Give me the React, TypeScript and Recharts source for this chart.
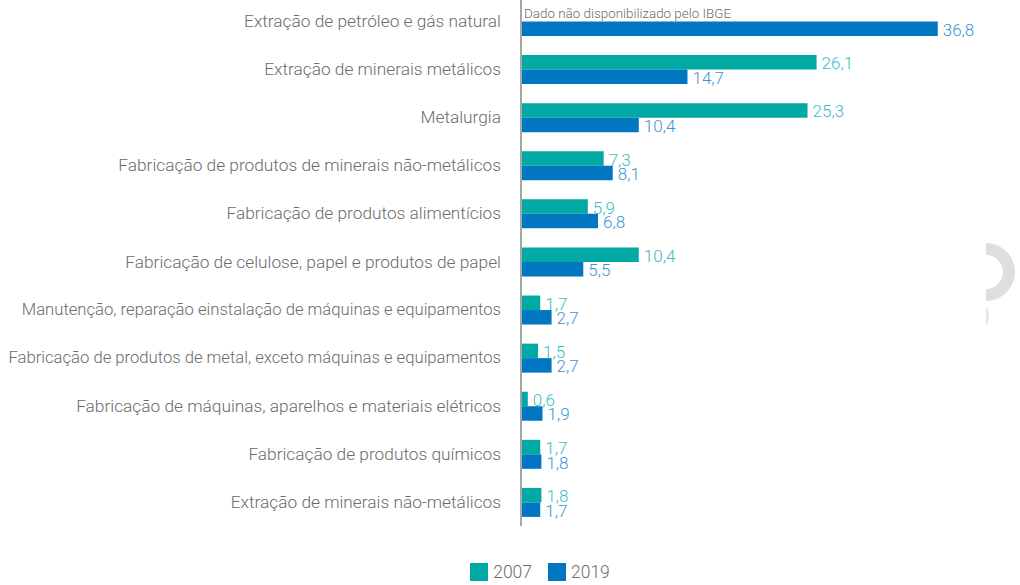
import React from "react";
import { BarChart, Bar, XAxis, YAxis, LabelList, Legend } from "recharts";

const categories = [
  "Extração de petróleo e gás natural",
  "Extração de minerais metálicos",
  "Metalurgia",
  "Fabricação de produtos de minerais não-metálicos",
  "Fabricação de produtos alimentícios",
  "Fabricação de celulose, papel e produtos de papel",
  "Manutenção, reparação einstalação de máquinas e equipamentos",
  "Fabricação de produtos de metal, exceto máquinas e equipamentos",
  "Fabricação de máquinas, aparelhos e materiais elétricos",
  "Fabricação de produtos químicos",
  "Extração de minerais não-metálicos",
];

const values2007: (number | null)[] = [null, 26.1, 25.3, 7.3, 5.9, 10.4, 1.7, 1.5, 0.6, 1.7, 1.8];
const values2019 = [36.8, 14.7, 10.4, 8.1, 6.8, 5.5, 2.7, 2.7, 1.9, 1.8, 1.7];

const missingNote = "Dado não disponibilizado pelo IBGE";

const TEAL = "#00a9a4";
const BLUE = "#0077c0";
const TEAL_TXT = "#3dbcc0";
const BLUE_TXT = "#3b95d6";
const GREY = "#6b6b6b";
const FONT = "Roboto, 'Noto Sans', sans-serif";

const data = categories.map((name, i) => ({
  name,
  y2007: values2007[i],
  y2019: values2019[i],
}));

const fmt = (v: unknown) =>
  typeof v === "number" ? v.toFixed(1).replace(".", ",") : "";

// category tick; the very long names are set a bit smaller so they fit
const CategoryTick = (props: any) => {
  const { x, y, payload } = props;
  const label = String(payload.value);
  return (
    <text
      x={x}
      y={y}
      textAnchor="end"
      dominantBaseline="central"
      fontSize={label.length > 56 ? 16.65 : 17.3}
      fontWeight={300}
      fill={GREY}
      fontFamily={FONT}
    >
      {label}
    </text>
  );
};

// value label; the 2019 one also writes the note when 2007 has no data
function ValueLabel(color: string, withNote: boolean) {
  return (props: any) => {
    const { x, y, width, height, value, index } = props;
    if (value == null) return null;
    const missing = withNote && values2007[index] == null;
    return (
      <g>
        {missing && (
          <text
            x={Number(x) + 3}
            y={Number(y) - 8}
            dominantBaseline="central"
            fontSize={13.4}
            fontWeight={300}
            fill={GREY}
            fontFamily={FONT}
          >
            {missingNote}
          </text>
        )}
        <text
          x={Number(x) + Number(width) + 5}
          y={Number(y) + Number(height) / 2 + 1}
          dominantBaseline="central"
          fontSize={17}
          fontWeight={300}
          fill={color}
          fontFamily={FONT}
        >
          {fmt(value)}
        </text>
      </g>
    );
  };
}

const LegendBox = () => (
  <div
    style={{
      display: "flex",
      justifyContent: "center",
      alignItems: "center",
      gap: 16,
      fontFamily: FONT,
      fontWeight: 300,
      fontSize: 17.5,
      color: GREY,
      marginLeft: 106,
    }}
  >
    {[
      { label: "2007", color: TEAL },
      { label: "2019", color: BLUE },
    ].map((s) => (
      <div key={s.label} style={{ display: "flex", alignItems: "center", gap: 5 }}>
        <span style={{ width: 18, height: 18, background: s.color, display: "inline-block" }} />
        <span>{s.label}</span>
      </div>
    ))}
  </div>
);

// faint logo cut off at the right edge of the picture
const Watermark = () => (
  <svg
    width={40}
    height={100}
    style={{ position: "absolute", left: 980, top: 238 }}
  >
    <path
      d="M6 5 A29 29 0 0 1 6 63 L6 51 A17 17 0 0 0 6 17 Z"
      fill="#dedede"
    />
    <path d="M6 68 Q12 78 6 89 Z" fill="#e6e6e6" />
  </svg>
);

export default function App() {
  return (
    <div style={{ position: "absolute", left: 0, top: 0, width: 1020, height: 585, overflow: "hidden", background: "#fff" }}>
      <div style={{ position: "absolute", left: 0, top: -3 }}>
        <BarChart
          width={1020}
          height={588}
          data={data}
          layout="vertical"
          margin={{ top: 0, right: 46, bottom: 39, left: 0 }}
          barGap={0}
          barSize={14.5}
        >
          <XAxis type="number" domain={[0, 40]} hide />
          <YAxis
            type="category"
            dataKey="name"
            width={521}
            tickLine={false}
            tickSize={6}
            tickMargin={14}
            axisLine={{ stroke: "#a6a6a6", strokeWidth: 2 }}
            tick={<CategoryTick />}
            interval={0}
          />
          <Legend verticalAlign="bottom" content={<LegendBox />} wrapperStyle={{ bottom: 3 }} />
          <Bar dataKey="y2007" name="2007" fill={TEAL} isAnimationActive={false}>
            <LabelList dataKey="y2007" content={ValueLabel(TEAL_TXT, false)} />
          </Bar>
          <Bar dataKey="y2019" name="2019" fill={BLUE} isAnimationActive={false}>
            <LabelList dataKey="y2019" content={ValueLabel(BLUE_TXT, true)} />
          </Bar>
        </BarChart>
      </div>
      <Watermark />
    </div>
  );
}
